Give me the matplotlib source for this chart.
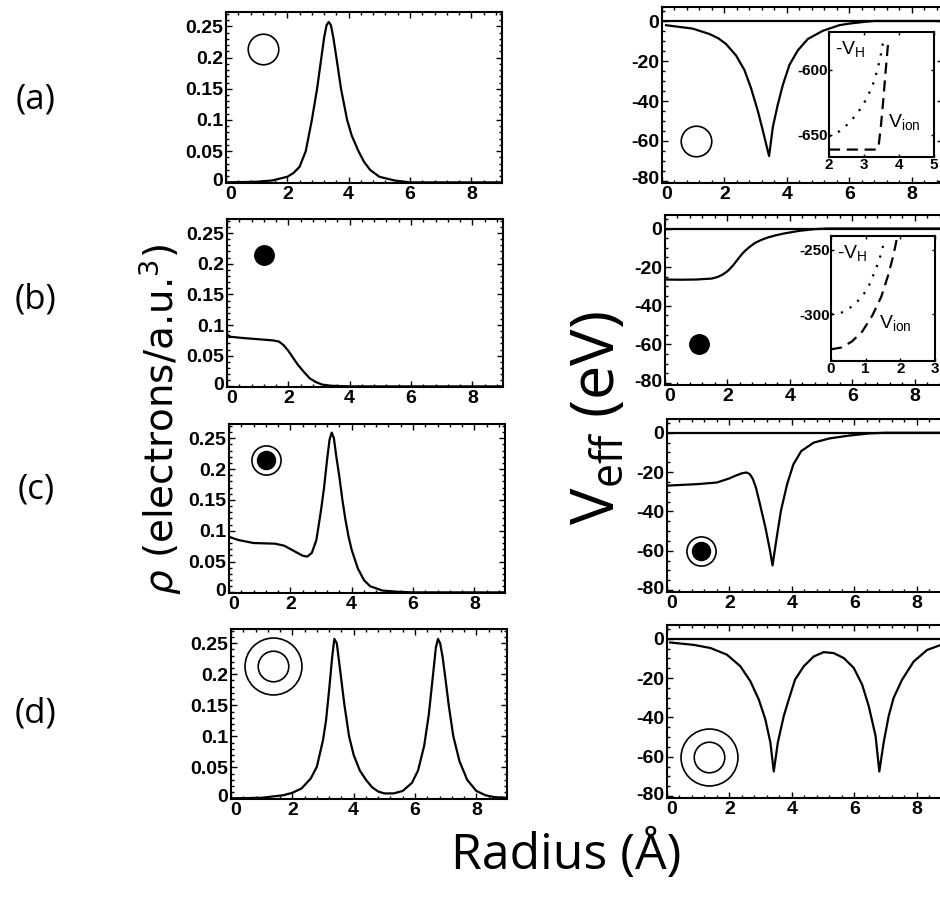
import matplotlib
matplotlib.use("Agg")
import matplotlib.pyplot as plt
from matplotlib.ticker import MultipleLocator
from matplotlib.transforms import ScaledTranslation

plt.rcParams["axes.unicode_minus"] = False

# -----------------------------
# Data
# -----------------------------
# electron density rho(r), panels (a)-(d)
rho_a_x = [0.0, 1.0, 1.5, 2.0, 2.2, 2.4, 2.6, 2.8, 2.97, 3.11, 3.2, 3.28, 3.35,
           3.42, 3.5, 3.6, 3.75, 3.95, 4.1, 4.32, 4.5, 4.7, 5.0, 5.5, 6.0, 9.0]
rho_a_y = [0.0, 0.001, 0.003, 0.009, 0.015, 0.025, 0.05, 0.1, 0.15, 0.2, 0.232, 0.252, 0.257,
           0.252, 0.232, 0.2, 0.15, 0.1, 0.075, 0.05, 0.033, 0.02, 0.009, 0.003, 0.0, 0.0]

rho_b_x = [0.0, 0.1, 0.5, 1.0, 1.5, 1.7, 1.85, 2.0, 2.15, 2.3, 2.5, 2.7,
           2.9, 3.1, 3.4, 4.0, 9.0]
rho_b_y = [0.085, 0.081, 0.079, 0.077, 0.075, 0.073, 0.067, 0.058, 0.047, 0.036, 0.024, 0.013,
           0.007, 0.003, 0.001, 0.0, 0.0]

rho_c_x = [0.0, 0.3, 0.8, 1.5, 1.8, 2.1, 2.4, 2.55, 2.7, 2.85, 3.0, 3.1, 3.2, 3.28, 3.35,
           3.42, 3.5, 3.6, 3.7, 3.8, 3.9, 4.0, 4.2, 4.4, 4.6, 5.0, 5.5, 6.0, 9.0]
rho_c_y = [0.09, 0.085, 0.080, 0.079, 0.0757, 0.0676, 0.0595, 0.058, 0.064, 0.085, 0.133,
           0.17, 0.216, 0.248, 0.259, 0.25, 0.22, 0.187, 0.149, 0.117, 0.09, 0.069, 0.039,
           0.02, 0.01, 0.003, 0.001, 0.0, 0.0]

rho_d_x = [0.0, 1.0, 1.7, 2.0, 2.3, 2.6, 2.8, 3.0, 3.1, 3.2, 3.3, 3.37, 3.45, 3.55,
           3.7, 3.85, 4.0, 4.2, 4.4, 4.6, 4.8, 5.0, 5.3, 5.6, 5.9, 6.1, 6.3, 6.45,
           6.6, 6.68, 6.75, 6.82, 6.9, 7.0, 7.1, 7.25, 7.45, 7.7, 8.0, 8.3, 8.6, 9.0]
rho_d_y = [0.0, 0.001, 0.005, 0.009, 0.016, 0.032, 0.051, 0.094, 0.126, 0.175, 0.228,
           0.257, 0.25, 0.21, 0.15, 0.1, 0.07, 0.045, 0.03, 0.018, 0.011, 0.008, 0.008,
           0.012, 0.025, 0.045, 0.085, 0.135, 0.205, 0.243, 0.257, 0.25, 0.228, 0.19,
           0.15, 0.1, 0.06, 0.03, 0.012, 0.005, 0.002, 0.001]

# effective potential V_eff(r) in eV, panels (a)-(d)
v_a_x = [0.13, 0.98, 1.52, 1.8, 2.05, 2.37, 2.64, 2.85, 3.07, 3.23, 3.35, 3.43,
         3.55, 3.71, 3.87, 4.08, 4.35, 4.67, 5.15, 5.68, 6.0, 6.5, 6.8, 9.0]
v_a_y = [-2.1, -3.8, -6.5, -8.6, -11.5, -17.2, -24.5, -33.5, -45.0, -54.8, -62.5, -67.5,
         -53.0, -41.7, -32.0, -22.0, -14.7, -9.0, -4.9, -2.1, -1.3, -0.4, 0.0, 0.0]

v_b_x = [0.0, 0.5, 1.0, 1.5, 1.7, 1.85, 2.0, 2.1, 2.2, 2.3, 2.4, 2.5, 2.6, 2.75, 2.9,
         3.1, 3.3, 3.55, 3.8, 4.3, 4.8, 5.2, 9.0]
v_b_y = [-26.4, -26.5, -26.4, -25.9, -25.0, -23.8, -22.1, -20.5, -18.7, -16.6, -14.5,
         -12.6, -11.0, -9.0, -7.3, -5.8, -4.6, -3.5, -2.6, -1.2, -0.3, 0.0, 0.0]

v_c_x = [0.0, 1.0, 1.6, 2.0, 2.2, 2.4, 2.55, 2.65, 2.75, 2.85, 2.95, 3.15, 3.3, 3.38,
         3.5, 3.65, 3.85, 4.05, 4.3, 4.7, 5.2, 5.8, 6.5, 7.0, 9.0]
v_c_y = [-26.9, -26.1, -25.3, -23.2, -21.8, -20.6, -20.2, -21.0, -23.5, -28.0, -34.5,
         -48.0, -60.0, -67.5, -54.7, -39.6, -26.0, -16.0, -9.3, -5.0, -2.9, -1.5, -0.3,
         0.0, 0.0]

v_d_x = [0.1, 0.85, 1.39, 1.92, 2.35, 2.67, 2.94, 3.15, 3.31, 3.42,
         3.55, 3.74, 3.9, 4.1, 4.38, 4.7, 5.02, 5.34, 5.66, 5.98, 6.25, 6.46, 6.68, 6.8,
         6.94, 7.1, 7.26, 7.53, 7.9, 8.33, 8.76, 9.0]
v_d_y = [-1.9, -3.1, -4.7, -8.1, -14.0, -21.6, -30.9, -41.0, -52.7, -67.5,
         -52.7, -39.3, -30.9, -20.8, -14.0, -9.0, -6.8, -7.3, -9.8, -14.8, -23.3, -34.2,
         -49.4, -67.5, -52.7, -39.3, -30.0, -20.8, -11.6, -5.7, -3.2, -2.5]

# insets: -V_H (dotted) and V_ion (dashed)
ins_a_vh_x = [2.0, 2.3, 2.6, 2.9, 3.1, 3.3, 3.45, 3.57]
ins_a_vh_y = [-651.3, -647.2, -640.3, -630.0, -621.0, -608.2, -592.8, -575.0]
ins_a_vion_x = [2.0, 3.37, 3.42, 3.48, 3.55, 3.62, 3.7]
ins_a_vion_y = [-661.3, -661.3, -658.0, -644.0, -623.6, -600.5, -576.0]

ins_b_vh_x = [0.0, 0.3, 0.6, 0.9, 1.1, 1.3, 1.45, 1.55]
ins_b_vh_y = [-300.0, -298.7, -294.0, -286.4, -277.4, -264.6, -253.0, -241.5]
ins_b_vion_x = [0.0, 0.3, 0.6, 0.9, 1.2, 1.45, 1.65, 1.8, 1.9]
ins_b_vion_y = [-327.0, -325.6, -321.0, -313.3, -300.5, -286.4, -269.7, -254.4, -241.5]

row_labels = ["(a)", "(b)", "(c)", "(d)"]
rho_curves = [(rho_a_x, rho_a_y), (rho_b_x, rho_b_y), (rho_c_x, rho_c_y), (rho_d_x, rho_d_y)]
v_curves = [(v_a_x, v_a_y), (v_b_x, v_b_y), (v_c_x, v_c_y), (v_d_x, v_d_y)]

x_ticks = [0, 2, 4, 6, 8]
rho_ticks = [0, 0.05, 0.1, 0.15, 0.2, 0.25]
rho_tick_labels = ["0", "0.05", "0.1", "0.15", "0.2", "0.25"]
v_ticks = [-80, -60, -40, -20, 0]

# -----------------------------
# Layout (pixel boxes: left, top, right, bottom)
# -----------------------------
W, H = 940, 898
left_boxes = [(226, 12, 502, 183), (227, 219, 503, 387), (229, 424, 505, 593), (231, 629, 507, 799)]
right_boxes = [(662, 7, 943, 183), (665, 215, 946, 385), (667, 419, 948, 592), (667, 625, 948, 798)]
label_y = [100, 300, 490, 713]
# symbol type per row: open shell, filled core, core+shell, two shells
symbols = ["shell", "core", "core_shell", "two_shells"]

LW = 1.6
TICK_FAMILY = ["Liberation Sans", "DejaVu Sans"]
TITLE_FAMILY = ["Open Sans", "DejaVu Sans"]

fig = plt.figure(figsize=(W / 100, H / 100), dpi=100)


def box_axes(box):
    l, t, r, b = box
    return fig.add_axes([l / W, 1 - b / H, (r - l) / W, (b - t) / H])


def style_frame(ax, fontsize=14):
    ax.tick_params(which="both", direction="in", top=True, right=True,
                   width=1.0, pad=2)
    ax.tick_params(which="major", length=4)
    ax.tick_params(which="minor", length=2)
    for s in ax.spines.values():
        s.set_linewidth(1.5)
    for lab in ax.get_xticklabels() + ax.get_yticklabels():
        lab.set_fontfamily(TICK_FAMILY)
        lab.set_fontweight("bold")
        lab.set_fontsize(fontsize)


def nudge_corner_zeros(ax):
    # keep the two "0" labels at the lower-left corner apart, as in the original
    xl = ax.get_xticklabels()[0]
    xl.set_transform(xl.get_transform() + ScaledTranslation(0.05, 0, fig.dpi_scale_trans))
    yl = ax.get_yticklabels()[0]
    yl.set_transform(yl.get_transform() + ScaledTranslation(0, 0.03, fig.dpi_scale_trans))


def draw_symbol(ax, x, y, kind):
    if kind == "shell":
        ax.plot(x, y, "o", ms=22, mfc="white", mec="k", mew=1.2)
    elif kind == "core":
        ax.plot(x, y, "o", ms=14, mfc="k", mec="k")
    elif kind == "core_shell":
        ax.plot(x, y, "o", ms=21, mfc="white", mec="k", mew=1.2)
        ax.plot(x, y, "o", ms=13, mfc="k", mec="k")
    else:
        ax.plot(x, y, "o", ms=41, mfc="white", mec="k", mew=1.2)
        ax.plot(x, y, "o", ms=22, mfc="white", mec="k", mew=1.2)


for i in range(4):
    # density panel
    ax = box_axes(left_boxes[i])
    ax.plot(*rho_curves[i], color="k", lw=LW)
    ax.set_xlim(0, 9)
    ax.set_ylim(-0.001, 0.273)
    ax.set_xticks(x_ticks)
    ax.xaxis.set_minor_locator(MultipleLocator(0.4))
    ax.yaxis.set_minor_locator(MultipleLocator(0.01))
    ax.set_yticks(rho_ticks, rho_tick_labels)
    style_frame(ax)
    nudge_corner_zeros(ax)
    sx = 1.37 if symbols[i] == "two_shells" else 1.2
    draw_symbol(ax, sx, 0.214, symbols[i])

    # potential panel
    ax = box_axes(right_boxes[i])
    ax.axhline(0, color="k", lw=LW)
    ax.plot(*v_curves[i], color="k", lw=LW)
    ax.set_xlim(0, 9)
    ax.set_ylim(-81, 7)
    ax.set_xticks(x_ticks)
    ax.set_yticks(v_ticks)
    ax.xaxis.set_minor_locator(MultipleLocator(0.4))
    ax.yaxis.set_minor_locator(MultipleLocator(5))
    style_frame(ax)
    nudge_corner_zeros(ax)
    sx = 1.35 if symbols[i] == "two_shells" else 1.1
    draw_symbol(ax, sx, -60, symbols[i])

    fig.text(36 / W, 1 - label_y[i] / H, row_labels[i], ha="center", va="center",
             fontsize=25, family=TITLE_FAMILY)

# -----------------------------
# Insets
# -----------------------------
INS_TXT = dict(fontsize=14, family=TICK_FAMILY, va="center", ha="left")

ins = box_axes((829, 32, 934, 157))
ins.plot(ins_a_vh_x, ins_a_vh_y, color="k", lw=1.6, ls=(0, (1, 3.5)))
ins.plot(ins_a_vion_x, ins_a_vion_y, color="k", lw=1.6, ls=(0, (5, 3)))
ins.set_xlim(2, 5)
ins.set_ylim(-667, -571)
ins.set_xticks([2, 3, 4, 5])
ins.set_yticks([-650, -600])
style_frame(ins, fontsize=11)
ins.tick_params(direction="in", length=2, pad=1)
ins.text(0.06, 0.86, r"-V$_\mathregular{H}$", transform=ins.transAxes, **INS_TXT)
ins.text(0.56, 0.27, r"V$_\mathregular{ion}$", transform=ins.transAxes, **INS_TXT)

ins = box_axes((831, 236, 935, 361))
ins.plot(ins_b_vh_x, ins_b_vh_y, color="k", lw=1.6, ls=(0, (1, 3.5)))
ins.plot(ins_b_vion_x, ins_b_vion_y, color="k", lw=1.6, ls=(0, (5, 3)))
ins.set_xlim(0, 3)
ins.set_ylim(-336, -239.5)
ins.set_xticks([0, 1, 2, 3])
ins.set_yticks([-300, -250])
style_frame(ins, fontsize=11)
ins.tick_params(direction="in", length=2, pad=1)
ins.text(0.06, 0.86, r"-V$_\mathregular{H}$", transform=ins.transAxes, **INS_TXT)
ins.text(0.46, 0.3, r"V$_\mathregular{ion}$", transform=ins.transAxes, **INS_TXT)

# -----------------------------
# Axis titles
# -----------------------------
fig.text(160 / W, 1 - 420 / H, r"$\rho$ (electrons/a.u.$^3$)", rotation=90,
         ha="center", va="center", fontsize=28, family=["DejaVu Sans"])
fig.text(598 / W, 1 - 418 / H, r"V$_\mathregular{eff}$ (eV)", rotation=90,
         ha="center", va="center", fontsize=44, family=TITLE_FAMILY)
fig.text(566 / W, 1 - 855 / H, "Radius (Å)", ha="center", va="center",
         fontsize=36, family=TITLE_FAMILY)

fig.savefig("out.png", dpi=100)
